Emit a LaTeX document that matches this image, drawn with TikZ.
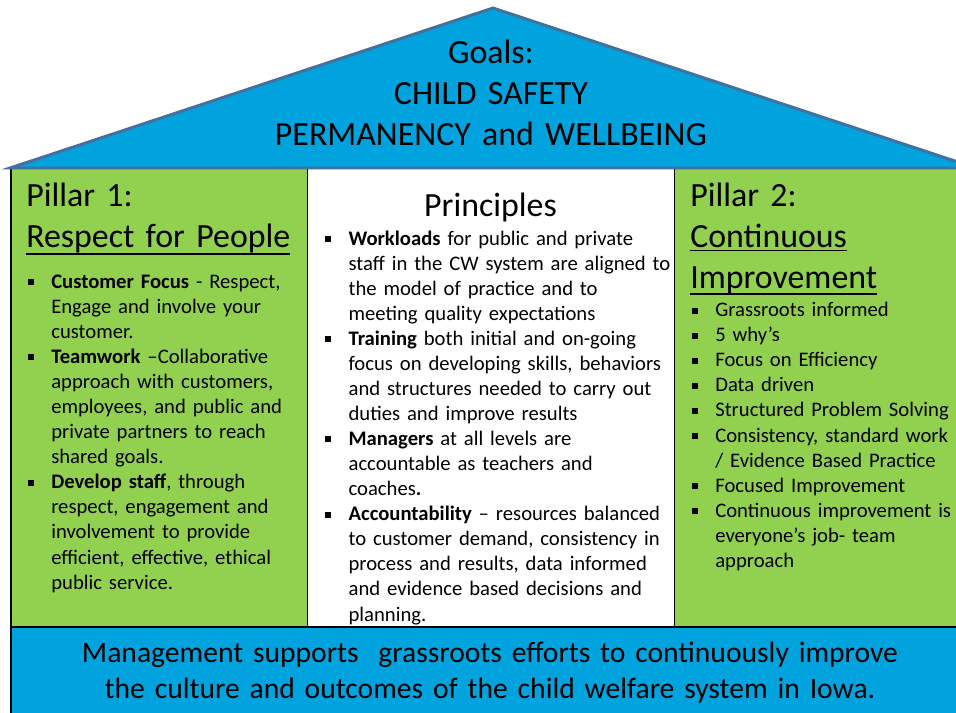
\documentclass[tikz,border=0pt]{standalone}
\usepackage{fontspec}
\setmainfont{Carlito}
\usepackage{tikz}
\usetikzlibrary{positioning}
\definecolor{roofblue}{RGB}{0,163,222}
\definecolor{roofedge}{RGB}{65,113,156}
\definecolor{pillargreen}{RGB}{146,208,80}
\tikzset{every picture/.style={
  line join=miter               % Sharp roof corners.
  }
}

% Underlined heading with a thicker rule.
\newsavebox\ulbox
\newcommand\ulhead[2][-5.8pt]{\leavevmode\sbox\ulbox{#2}%
  \rlap{\rule[#1]{\wd\ulbox}{1.3pt}}\usebox\ulbox}
% Square bullet items with hanging indent.
\newcommand\itmbullet{\hangindent=17.5pt\hangafter=1
  \makebox[17.5pt][l]{\rule[2.3pt]{4.5pt}{4.5pt}}}
\newcommand\firstitm{\noindent\itmbullet}
\newcommand\itm{\par\noindent\itmbullet}

\begin{document}
\begin{tikzpicture}[
    x=0.75pt, y=-0.75pt,
    box/.style={draw=black, line width=1.1pt},
    head/.style={
      inner sep=0pt,
      font={\fontsize{25.4}{30.75}\selectfont}
    },
    list/.style={
      inner sep=0pt,
      anchor=base west,
      text width=330pt,
      font={\fontsize{15.5}{18.8}\selectfont}
    }]

    % Helper macro: one upright panel of the house.
    \def\panel#1#2#3{ \filldraw[box,fill=#3] (#1,168) rectangle (#2,627) }

    \useasboundingbox (0,0) rectangle (956,713);
    \clip (0,0) rectangle (956,713);

    % Draw the foundation and the three panels.
    \filldraw[box,fill=roofblue] (11,627) rectangle (970,730);
    \panel{11}{307.5}{pillargreen};
    \panel{307.5}{674.5}{white};
    \panel{674.5}{970}{pillargreen};

    % Draw the roof.
    \filldraw[fill=roofblue,draw=roofedge,line width=2.2pt]
      (10,168) -- (493,8) -- (976,168) -- cycle;

    % Roof and foundation texts.
    \node[head,anchor=base,text width=600pt,align=center,
      font={\fontsize{25.4}{30.4}\selectfont}] (goals) at (491,64)
      {Goals:\\ CHILD SAFETY\\ PERMANENCY and WELLBEING};
    \node[inner sep=0pt,anchor=base,text width=700pt,align=center,
      font={\fontsize{22.2}{27.5}\selectfont}] (base) at (490,662.3)
      {Management supports~~grassroots efforts to continuously improve\\
       the culture and outcomes of the child welfare system in Iowa.};

    % Pillar 1.
    \node[head,anchor=base west,text width=290pt,align=left] (p1head)
      at (26,206) {Pillar 1:\\ \ulhead{Respect for People}};
    \node[list] (p1list) at (27.7,288.3) {%
      \firstitm\textbf{Customer Focus} - Respect,\newline Engage and
        involve your\newline customer.
      \itm\textbf{Teamwork} --Collaborative\newline approach with
        customers,\newline employees, and public and\newline private
        partners to reach\newline shared goals.
      \itm\textbf{Develop staff}, through\newline respect, engagement
        and\newline involvement to provide\newline efficient,
        effective, ethical\newline public service.\par};

    % Principles.
    \node[head,anchor=base] (prhead) at (490.5,216.7) {Principles};
    \node[list] (prlist) at (325,245) {%
      \firstitm\textbf{Workloads} for public and private\newline staff in
        the CW system are aligned to\newline the model of practice and
        to\newline meeting quality expectations
      \itm\textbf{Training} both initial and on-going\newline focus on
        developing skills, behaviors\newline and structures needed to
        carry out\newline duties and improve results
      \itm\textbf{Managers} at all levels are\newline accountable as
        teachers and\newline coaches\textbf{.}
      \itm\textbf{Accountability} -- resources balanced\newline to
        customer demand, consistency in\newline process and results,
        data informed\newline and evidence based decisions
        and\newline planning.\par};

    % Pillar 2.
    \node[head,anchor=base west,text width=290pt,align=left] (p2head)
      at (690,206) {Pillar 2:\\ \ulhead[-3.2pt]{Continuous}\\
      \ulhead[-5pt]{Improvement}};
    \node[list] (p2list) at (691.7,316.7) {%
      \firstitm Grassroots informed
      \itm 5 why’s
      \itm Focus on Efficiency
      \itm Data driven
      \itm Structured Problem Solving
      \itm Consistency, standard work\newline / Evidence Based Practice
      \itm Focused Improvement
      \itm Continuous improvement is\newline everyone’s job- team\newline
        approach\par};

  \end{tikzpicture}
\end{document}
